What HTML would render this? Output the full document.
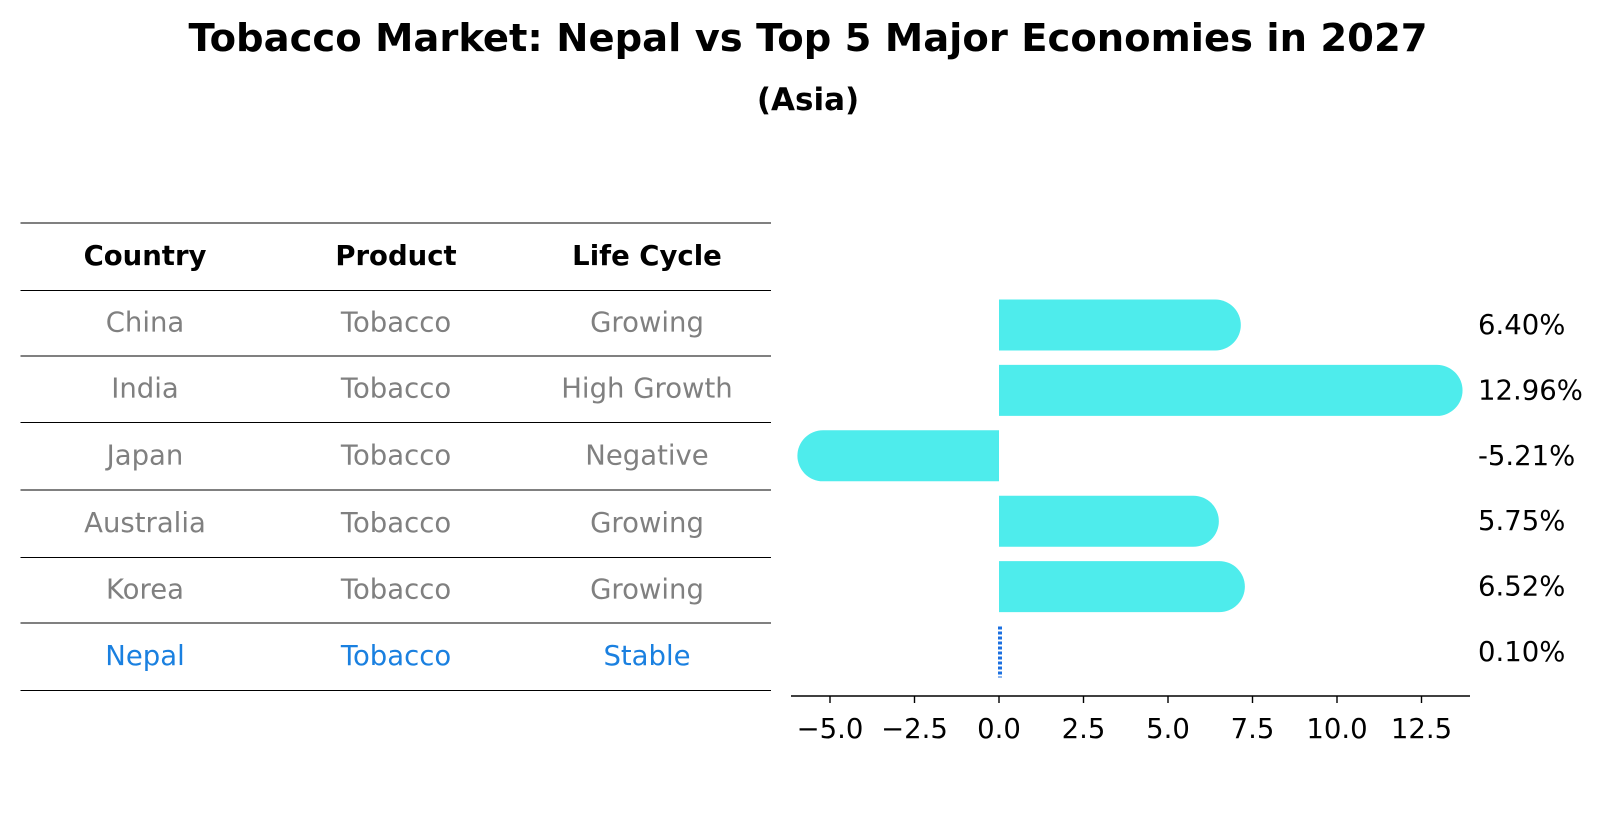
<!DOCTYPE html>
<html><head><meta charset="utf-8">
<style>
body{margin:0;background:#fff;font-family:"DejaVu Sans","Liberation Sans",sans-serif;}
svg text{font-family:"DejaVu Sans","Liberation Sans",sans-serif;}
</style></head>
<body>
<svg width="1604" height="823" xmlns="http://www.w3.org/2000/svg">
<text x="808" y="51" text-anchor="middle" font-size="38.5" font-weight="bold">Tobacco Market: Nepal vs Top 5 Major Economies in 2027</text>
<text x="808" y="110" text-anchor="middle" font-size="31" font-weight="bold">(Asia)</text>
<g id="table"></g>
<g id="bars"></g>
</svg>
<script>
const countries=["China","India","Japan","Australia","Korea","Nepal"];
const products=["Tobacco","Tobacco","Tobacco","Tobacco","Tobacco","Tobacco"];
const lifecycle=["Growing","High Growth","Negative","Growing","Growing","Stable"];
const values=[6.40,12.96,-5.21,5.75,6.52,0.10];
const ticks=[-5.0,-2.5,0.0,2.5,5.0,7.5,10.0,12.5];
const NS="http://www.w3.org/2000/svg";
function mk(t,a,p){const e=document.createElementNS(NS,t);for(const k in a)e.setAttribute(k,a[k]);p.appendChild(e);return e;}
const FS=27.5;
const tb=document.getElementById('table');
const lineY=[223,290.5,356,422.5,490,557.5,623,690.5];
lineY.forEach((y,i)=>{const l=mk('line',{x1:20.5,x2:771,y1:y,y2:y,stroke:'#000','stroke-width':1},tb);

});
const colX=[145,396,647];
["Country","Product","Life Cycle"].forEach((h,i)=>{const t=mk('text',{x:colX[i],y:(lineY[0]+lineY[1])/2+8,'text-anchor':'middle','font-size':FS,'font-weight':'bold'},tb);t.textContent=h;

});
countries.forEach((c,r)=>{const y=(lineY[r+1]+lineY[r+2])/2+8;const col=c==="Nepal"?"#1a80e0":"#808080";
[c,products[r],lifecycle[r]].forEach((v,i)=>{const t=mk('text',{x:colX[i],y:y,'text-anchor':'middle','font-size':FS,fill:col},tb);t.textContent=v;

});});
const bg=document.getElementById('bars');
const x0=999,ppu=33.8;const X=v=>x0+v*ppu;
const rowY=r=>325+r*65.4;const bh=51;
values.forEach((v,r)=>{const cy=rowY(r);
if(countries[r]==="Nepal"){const l=mk('line',{x1:X(0)+1,x2:X(0)+1,y1:cy-bh/2,y2:cy+bh/2,stroke:'#1a6fe0','stroke-width':4,'stroke-dasharray':'3 2'},bg);
}
else{const xe=X(v);const r2=bh/2;let d;
if(v>=0)d=`M${X(0)},${cy-r2} L${xe},${cy-r2} A${r2},${r2} 0 0 1 ${xe},${cy+r2} L${X(0)},${cy+r2} Z`;
else d=`M${X(0)},${cy-r2} L${xe},${cy-r2} A${r2},${r2} 0 0 0 ${xe},${cy+r2} L${X(0)},${cy+r2} Z`;
const p=mk('path',{d:d,fill:'#4eecec'},bg);
}
const t=mk('text',{x:1478,y:cy+9,'font-size':FS},bg);t.textContent=v.toFixed(2)+'%';
});
const ax=mk('line',{x1:791,x2:1470,y1:696,y2:696,stroke:'#000','stroke-width':1.6},bg);

ticks.forEach(v=>{const l=mk('line',{x1:X(v),x2:X(v),y1:696,y2:703,stroke:'#000','stroke-width':1.4},bg);

const t=mk('text',{x:X(v),y:738,'text-anchor':'middle','font-size':FS},bg);t.textContent=(v<0?'\u2212':'')+Math.abs(v).toFixed(1);
});
</script>
</body></html>
